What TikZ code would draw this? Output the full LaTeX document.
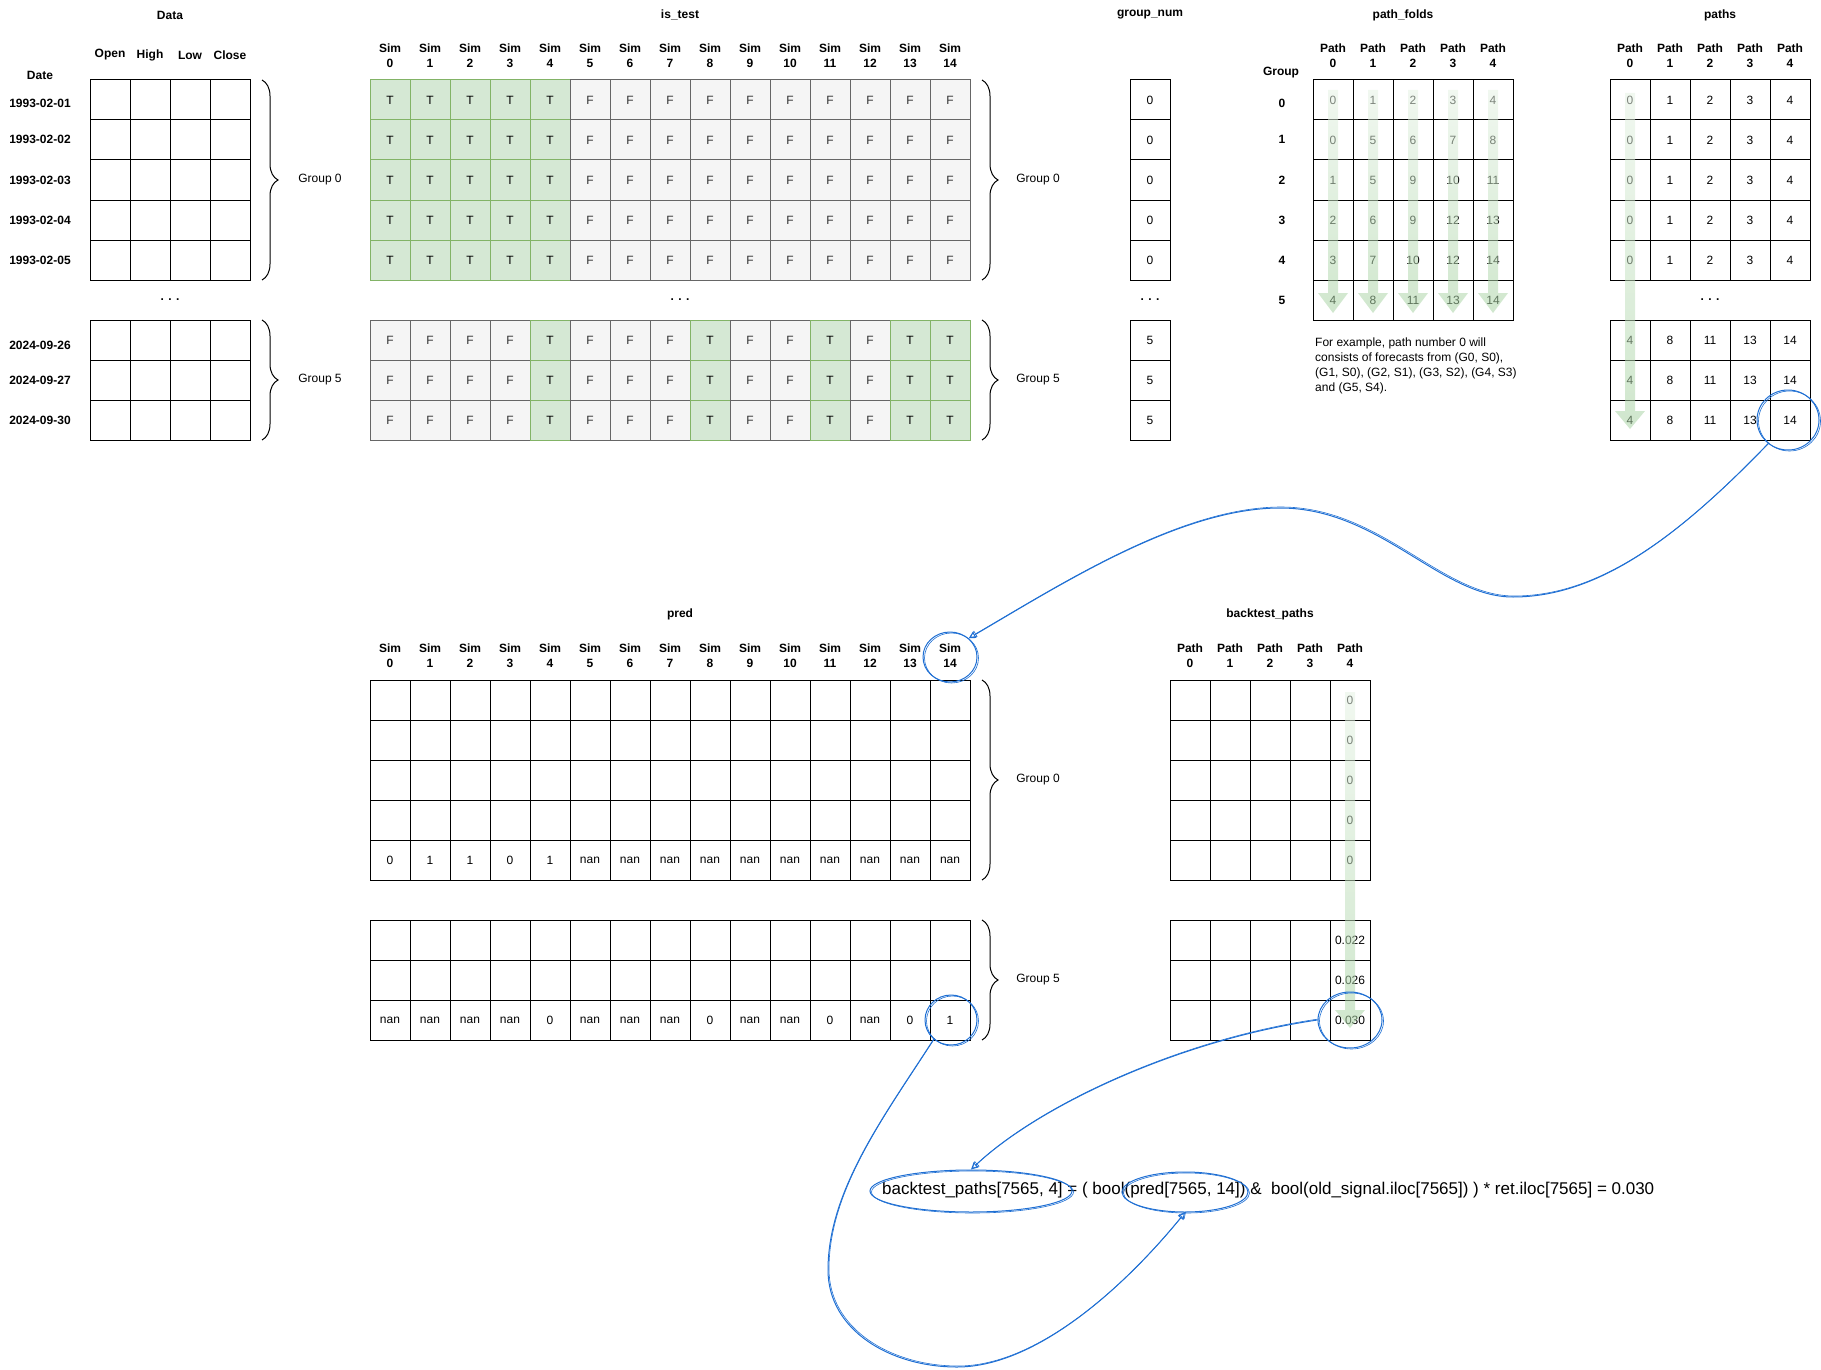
\documentclass[tikz,border=0pt]{standalone}
\usepackage{fontspec}
\setmainfont{Liberation Sans}
\usepackage{tikz}
\usetikzlibrary{calc}
\usetikzlibrary{arrows.meta}
\usetikzlibrary{shapes.geometric}
\usetikzlibrary{decorations.pathreplacing}
\definecolor{testfill}{HTML}{D5E8D4}
\definecolor{testline}{HTML}{82B366}
\definecolor{foldgreen}{HTML}{A9D3A4}
\definecolor{trainfill}{HTML}{F5F5F5}
\definecolor{trainline}{HTML}{666666}
\definecolor{traintext}{HTML}{333333}
\definecolor{penblue}{HTML}{1F6FD3}
\tikzset{
	cellstyle/.style={rectangle,draw=black,line width=1pt,minimum width=40pt,minimum height=40pt,inner sep=0pt},
	cellT/.style={cellstyle,draw=testline,fill=testfill},
	cellF/.style={cellstyle,draw=trainline,fill=trainfill,text=traintext},
	headstyle/.style={align=center,font=\bfseries},
	bracestyle/.style={decorate,decoration={brace,amplitude=16pt},line width=1pt},
	foldstyle/.style={top color=foldgreen!30!white,bottom color=foldgreen,fill opacity=0.55,draw=none},
	ringstyle/.style={ellipse,draw=penblue,line width=1pt,inner sep=0pt,postaction={draw=penblue,line width=0.6pt,transform canvas={shift={(1.5pt,-1pt)}}}},
	penstyle/.style={draw=penblue,line width=1pt,-{Triangle[open,length=7pt,width=7pt]},postaction={draw=penblue,line width=0.6pt,transform canvas={shift={(1pt,1pt)}}}}
}
\begin{document}
\begin{tikzpicture}[x=1pt,y=-1pt]
	\fontsize{12}{15}\selectfont
	\useasboundingbox (0,0) rectangle (1821,1370);
	% Data
	\node[headstyle] (datatitle) at (170,15) {Data};
	\node[headstyle] (datehead) at (40,75) {Date};
	\foreach \h [count=\c from 0] in {Open,High,Low,Close}
		\node[headstyle] (datacol-\c) at (110+40*\c,55) {\h};
	\foreach \d/\y [count=\r from 0] in {1993-02-01/103,1993-02-02/139,1993-02-03/180,1993-02-04/220,1993-02-05/260} {
		\node[headstyle] (datetop-\r) at (40,\y) {\d};
		\foreach \c in {0,...,3}
			\node[cellstyle] (datatop-\r-\c) at (110+40*\c,100+40*\r) {};
	}
	\node[headstyle] (datadots) at (170,300) {. . .};
	\foreach \d/\y [count=\r from 0] in {2024-09-26/345,2024-09-27/380,2024-09-30/420} {
		\node[headstyle] (datebot-\r) at (40,\y) {\d};
		\foreach \c in {0,...,3}
			\node[cellstyle] (databot-\r-\c) at (110+40*\c,340+40*\r) {};
	}
	\draw[bracestyle] (262,80) -- (262,280);
	\draw[bracestyle] (262,320) -- (262,440);
	\node (datagroup-0) at (320,180) {Group 0};
	\node (datagroup-5) at (320,380) {Group 5};
	% is_test
	\node[headstyle] (testtitle) at (680,15) {is\_test};
	\foreach \c in {0,...,14}
		\node[headstyle] (testcol-\c) at (390+40*\c,55.5) {Sim\\\c};
	\foreach \r in {0,...,4}
		\foreach \v [count=\c from 0] in {T,T,T,T,T,F,F,F,F,F,F,F,F,F,F}
			\node[cell\v] (testtop-\r-\c) at (390+40*\c,100+40*\r) {\v};
	\node[headstyle] (testdots) at (680,300) {. . .};
	\foreach \r in {0,...,2}
		\foreach \v [count=\c from 0] in {F,F,F,F,T,F,F,F,T,F,F,T,F,T,T}
			\node[cell\v] (testbot-\r-\c) at (390+40*\c,340+40*\r) {\v};
	\draw[bracestyle] (982,80) -- (982,280);
	\draw[bracestyle] (982,320) -- (982,440);
	\node (testgroup-0) at (1038,180) {Group 0};
	\node (testgroup-5) at (1038,380) {Group 5};
	% group_num
	\node[headstyle] (grouptitle) at (1150,15) {group\_num};
	\foreach \r in {0,...,4}
		\node[cellstyle] (grouptop-\r) at (1150,100+40*\r) {0};
	\node[headstyle] (groupdots) at (1150,300) {. . .};
	\foreach \r in {0,...,2}
		\node[cellstyle] (groupbot-\r) at (1150,340+40*\r) {5};
	% path_folds
	\node[headstyle] (foldtitle) at (1403,15) {path\_folds};
	\node[headstyle] (foldgroup) at (1281,73) {Group};
	\foreach \c in {0,...,4}
		\node[headstyle] (foldcol-\c) at (1333+40*\c,55.5) {Path\\\c};
	\foreach \row/\y [count=\r from 0] in {{0,1,2,3,4}/103,{0,5,6,7,8}/139,{1,5,9,10,11}/180,{2,6,9,12,13}/220,{3,7,10,12,14}/260,{4,8,11,13,14}/300} {
		\node[headstyle] (foldrow-\r) at (1282,\y) {\r};
		\foreach \v [count=\c from 0] in \row
			\node[cellstyle] (fold-\r-\c) at (1333+40*\c,100+40*\r) {\v};
	}
	\foreach \c in {0,...,4}
		\shade[foldstyle] (1328+40*\c,90) -- (1338+40*\c,90) -- (1338+40*\c,293) -- (1348+40*\c,293) -- (1333+40*\c,313) -- (1318+40*\c,293) -- (1328+40*\c,293) -- cycle;
	\node[anchor=north west,inner sep=0pt,align=left] (foldnote) at (1315,338) {For example, path number 0 will\\consists of forecasts from (G0, S0),\\(G1, S0), (G2, S1), (G3, S2), (G4, S3)\\and (G5, S4).};
	% paths
	\node[headstyle] (pathtitle) at (1720,15) {paths};
	\foreach \c in {0,...,4}
		\node[headstyle] (pathcol-\c) at (1630+40*\c,55.5) {Path\\\c};
	\foreach \r in {0,...,4}
		\foreach \c in {0,...,4}
			\node[cellstyle] (pathtop-\r-\c) at (1630+40*\c,100+40*\r) {\c};
	\node[headstyle] (pathdots) at (1710,300) {. . .};
	\foreach \r in {0,...,2}
		\foreach \v [count=\c from 0] in {4,8,11,13,14}
			\node[cellstyle] (pathbot-\r-\c) at (1630+40*\c,340+40*\r) {\v};
	\shade[foldstyle] (1625,93) -- (1635,93) -- (1635,411) -- (1645,411) -- (1630,429) -- (1615,411) -- (1625,411) -- cycle;
	% pred
	\node[headstyle] (predtitle) at (680,614) {pred};
	\foreach \c in {0,...,14}
		\node[headstyle] (predcol-\c) at (390+40*\c,655.5) {Sim\\\c};
	\foreach \r in {0,...,3}
		\foreach \c in {0,...,14}
			\node[cellstyle] (predtop-\r-\c) at (390+40*\c,700+40*\r) {};
	\foreach \v [count=\c from 0] in {0,1,1,0,1,nan,nan,nan,nan,nan,nan,nan,nan,nan,nan}
		\node[cellstyle] (predtop-4-\c) at (390+40*\c,860) {\v};
	\foreach \r in {0,1}
		\foreach \c in {0,...,14}
			\node[cellstyle] (predbot-\r-\c) at (390+40*\c,940+40*\r) {};
	\foreach \v [count=\c from 0] in {nan,nan,nan,nan,0,nan,nan,nan,0,nan,nan,0,nan,0,1}
		\node[cellstyle] (predbot-2-\c) at (390+40*\c,1020) {\v};
	\draw[bracestyle] (982,680) -- (982,880);
	\draw[bracestyle] (982,920) -- (982,1040);
	\node (predgroup-0) at (1038,780) {Group 0};
	\node (predgroup-5) at (1038,980) {Group 5};
	% backtest_paths
	\node[headstyle] (backtitle) at (1270,614) {backtest\_paths};
	\foreach \c in {0,...,4}
		\node[headstyle] (backcol-\c) at (1190+40*\c,655.5) {Path\\\c};
	\foreach \r in {0,...,4} {
		\foreach \c in {0,...,3}
			\node[cellstyle] (backtop-\r-\c) at (1190+40*\c,700+40*\r) {};
		\node[cellstyle] (backtop-\r-4) at (1350,700+40*\r) {0};
	}
	\foreach \v [count=\r from 0] in {0.022,0.026,0.030} {
		\foreach \c in {0,...,3}
			\node[cellstyle] (backbot-\r-\c) at (1190+40*\c,940+40*\r) {};
		\node[cellstyle] (backbot-\r-4) at (1350,940+40*\r) {\v};
	}
	\shade[foldstyle] (1345,692) -- (1355,692) -- (1355,1010) -- (1365,1010) -- (1350,1028) -- (1335,1010) -- (1345,1010) -- cycle;
	% formula
	\node[anchor=west,inner sep=0pt,font=\fontsize{17}{20}\selectfont] (formula) at (882,1190) {backtest\_paths[7565, 4] = ( bool(pred[7565, 14]) \&\ \ bool(old\_signal.iloc[7565]) ) * ret.iloc[7565] = 0.030};
	% rings
	\node[ringstyle,minimum width=62pt,minimum height=60pt] (ringpaths) at (1788,420) {};
	\node[ringstyle,minimum width=54pt,minimum height=50pt] (ringsim) at (950,657) {};
	\node[ringstyle,minimum width=52pt,minimum height=50pt] (ringone) at (951,1020) {};
	\node[ringstyle,minimum width=64pt,minimum height=56pt] (ringzero) at (1350,1020) {};
	\node[ringstyle,minimum width=202pt,minimum height=42pt] (ringlhs) at (971,1191) {};
	\node[ringstyle,minimum width=126pt,minimum height=40pt] (ringpred) at (1185,1192) {};
	\draw[penstyle] (ringpaths.230) .. controls (1680,535) and (1600,597) .. (1513,597) .. controls (1440,597) and (1380,508) .. (1280,508) .. controls (1180,508) and (1060,585) .. (ringsim.45);
	\draw[penstyle] (ringzero.west) .. controls (1180,1040) and (1040,1105) .. (ringlhs.north);
	\draw[penstyle] (ringone.228) .. controls (885,1115) and (828,1190) .. (828,1270) .. controls (828,1330) and (890,1367) .. (957,1367) .. controls (1040,1367) and (1130,1280) .. (ringpred.south);
\end{tikzpicture}
\end{document}
